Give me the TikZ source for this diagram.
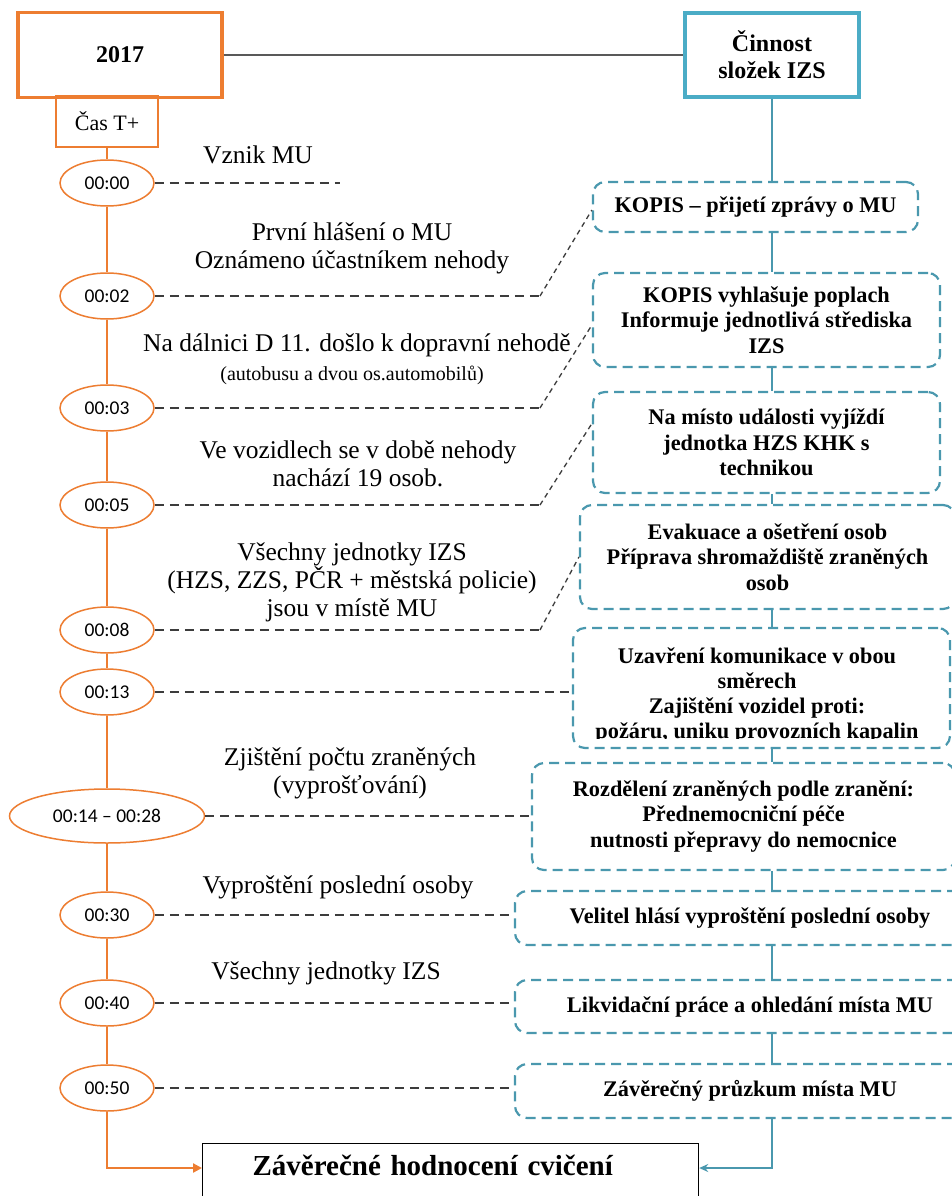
\documentclass[tikz,border=0pt]{standalone}
\usepackage{fontspec}
\setmainfont{Liberation Serif}
\newfontfamily\tsfont{Carlito}
\usetikzlibrary{shapes.geometric,arrows.meta,calc}
\definecolor{orng}{RGB}{237,125,49}
\definecolor{tealA}{RGB}{75,172,198}
\definecolor{tealB}{RGB}{74,152,174}
\definecolor{dgray}{RGB}{60,60,60}
\begin{document}
\begin{tikzpicture}[x=1pt,y=-1pt,
 lbl/.style={align=center,font=\fontsize{25.5}{28}\selectfont,inner sep=0},
 ibox/.style={draw=tealB,line width=2.2pt,dash pattern=on 10pt off 6pt,rounded corners=12pt,align=center,font=\fontsize{22.3}{25.5}\selectfont\bfseries,inner sep=0},
 tstamp/.style={ellipse,draw=orng,line width=1.5pt,minimum width=94pt,minimum height=46pt,inner sep=0,font=\tsfont\fontsize{19.5}{22}\selectfont},
 tline/.style={orng,line width=2.8pt},
 iline/.style={tealB,line width=2pt},
 dline/.style={dgray,line width=2.2pt,dash pattern=on 9pt off 6pt},
 dthin/.style={dgray,line width=1.3pt,dash pattern=on 5pt off 4pt},
]
\useasboundingbox (0,0) rectangle (952,1196);
\fill[white] (0,0) rectangle (952,1196);

% header boxes
\node[draw=orng,line width=3.5pt,minimum width=204pt,minimum height=85pt,font=\fontsize{24}{28}\selectfont\bfseries] (yr) at (120,55) {2017};
\node[draw=orng,line width=1.8pt,minimum width=102pt,minimum height=51pt,font=\fontsize{22}{26}\selectfont] (cas) at (107,121.5) {Čas T+};
\node[draw=tealA,line width=3.5pt,minimum width=174pt,minimum height=84pt,align=center,font=\fontsize{24}{27}\selectfont\bfseries] (izs) at (772,55) {Činnost\\složek IZS};
\draw[dgray!85,line width=1.5pt] (yr.east) -- (izs.west);

% timestamps
\node[tstamp] (e0) at (107,183) {00:00};
\node[tstamp] (e1) at (107,296) {00:02};
\node[tstamp] (e2) at (107,408) {00:03};
\node[tstamp] (e3) at (107,505) {00:05};
\node[tstamp] (e4) at (107,630) {00:08};
\node[tstamp] (e5) at (107,692) {00:13};
\node[tstamp,minimum width=195pt,minimum height=54pt] (e6) at (107,816) {00:14 – 00:28};
\node[tstamp] (e7) at (107,915) {00:30};
\node[tstamp] (e8) at (107,1003) {00:40};
\node[tstamp] (e9) at (107,1088) {00:50};

% final box
\node[draw=black,line width=1.2pt,anchor=north west,text width=496pt,align=left,inner xsep=0pt,inner ysep=11pt,text depth=40pt,font=\fontsize{29}{32}\selectfont\bfseries] (fin) at (202,1143) {\hspace*{50pt}Závěrečné hodnocení cvičení};

% timeline
\draw[tline] (cas.south) -- (e0.north);
\foreach \a/\b in {e0/e1,e1/e2,e2/e3,e3/e4,e4/e5,e5/e6,e6/e7,e7/e8,e8/e9}
  \draw[tline] (\a.south) -- (\b.north);
\draw[tline,-{Triangle[length=9pt,width=9pt]}] (e9.south) |- ([yshift=-25pt]fin.north west);

% right boxes
\node[ibox,minimum width=325pt,minimum height=50pt] (b1) at (755.5,207) {KOPIS – přijetí zprávy o MU};
\node[ibox,minimum width=347pt,minimum height=94pt] (b2) at (766.5,320) {KOPIS vyhlašuje poplach\\Informuje jednotlivá střediska\\IZS};
\node[ibox,minimum width=347pt,minimum height=101pt] (b3) at (766.5,442.5) {Na místo události vyjíždí\\jednotka HZS KHK s\\technikou};
\node[ibox,minimum width=375pt,minimum height=104pt] (b4) at (767.5,557) {Evakuace a ošetření osob\\Příprava shromaždiště zraněných\\osob};
\node[ibox,minimum width=377pt,minimum height=120pt] (b5) at (761.5,688) {};
\begin{scope}
\clip (575,630) rectangle (948,738);
\node[align=center,font=\fontsize{22.3}{25}\selectfont\bfseries,inner sep=0,anchor=north] (t5) at (757,648) {Uzavření komunikace v obou\\směrech\\Zajištění vozidel proti:\\požáru, uniku provozních kapalin};
\end{scope}
\node[ibox,minimum width=423pt,minimum height=107pt] (b6) at (743.5,816.5) {Rozdělení zraněných podle zranění:\\Přednemocniční péče\\nutnosti přepravy do nemocnice};
\node[ibox,minimum width=470pt,minimum height=54pt] (b7) at (750,918) {Velitel hlásí vyproštění poslední osoby};
\node[ibox,minimum width=470pt,minimum height=53pt] (b8) at (750,1006.5) {Likvidační práce a ohledání místa MU};
\node[ibox,minimum width=470pt,minimum height=54pt] (b9) at (750,1091) {Závěrečný průzkum místa MU};

% teal connectors
\draw[iline] (izs.south) -- (b1.north -| izs.south);
\foreach \a/\b in {b1/b2,b2/b3,b3/b4,b4/b5,b5/b6,b6/b7,b7/b8,b8/b9}
  \draw[iline] (\a.south -| izs.south) -- (\b.north -| izs.south);
\draw[iline,-{Stealth[length=9pt,width=8pt]}] (b9.south -| izs.south) |- ([yshift=-25pt]fin.north east);

% dashed connectors
\coordinate (kx) at (540,0);
\coordinate (z0) at (340,183);
\draw[dline] (e0.east) -- (z0);
\draw[dline] (e1.east) -- (e1.east -| kx);
\draw[dthin] (e1.east -| kx) -- ([yshift=-3pt]b1.west);
\draw[dline] (e2.east) -- (e2.east -| kx);
\draw[dthin] (e2.east -| kx) -- ([yshift=-5pt]b2.west);
\draw[dline] (e3.east) -- (e3.east -| kx);
\draw[dthin] (e3.east -| kx) -- ([yshift=19pt]b3.west);
\draw[dline] (e4.east) -- (e4.east -| kx);
\draw[dthin] (e4.east -| kx) -- (b4.west);
\draw[dline] (e5.east) -- (e5.east -| b5.west);
\draw[dline] (e6.east) -- (e6.east -| b6.west);
\draw[dline] (e7.east) -- (e7.east -| b7.west);
\draw[dline] (e8.east) -- (e8.east -| b8.west);
\draw[dline] (e9.east) -- (e9.east -| b9.west);

% left labels
\node[lbl] (l0) at (258,155) {Vznik MU};
\node[lbl] (l1) at (352,248) {První hlášení o MU\\Oznámeno účastníkem nehody};
\node[lbl] (l2) at (357,345) {Na dálnici D 11. došlo k dopravní nehodě};
\node[lbl,font=\fontsize{20}{22}\selectfont] (l2b) at (352,375) {(autobusu a dvou os.automobilů)};
\node[lbl] (l3) at (358,464) {Ve vozidlech se v době nehody\\nachází 19 osob.};
\node[lbl] (l4) at (352,582) {Všechny jednotky IZS\\(HZS, ZZS, PČR + městská policie)\\jsou v místě MU};
\node[lbl] (l5) at (350,773) {Zjištění počtu zraněných\\(vyprošťování)};
\node[lbl] (l6) at (338,887) {Vyproštění poslední osoby};
\node[lbl] (l7) at (326,973) {Všechny jednotky IZS};
\end{tikzpicture}
\end{document}
